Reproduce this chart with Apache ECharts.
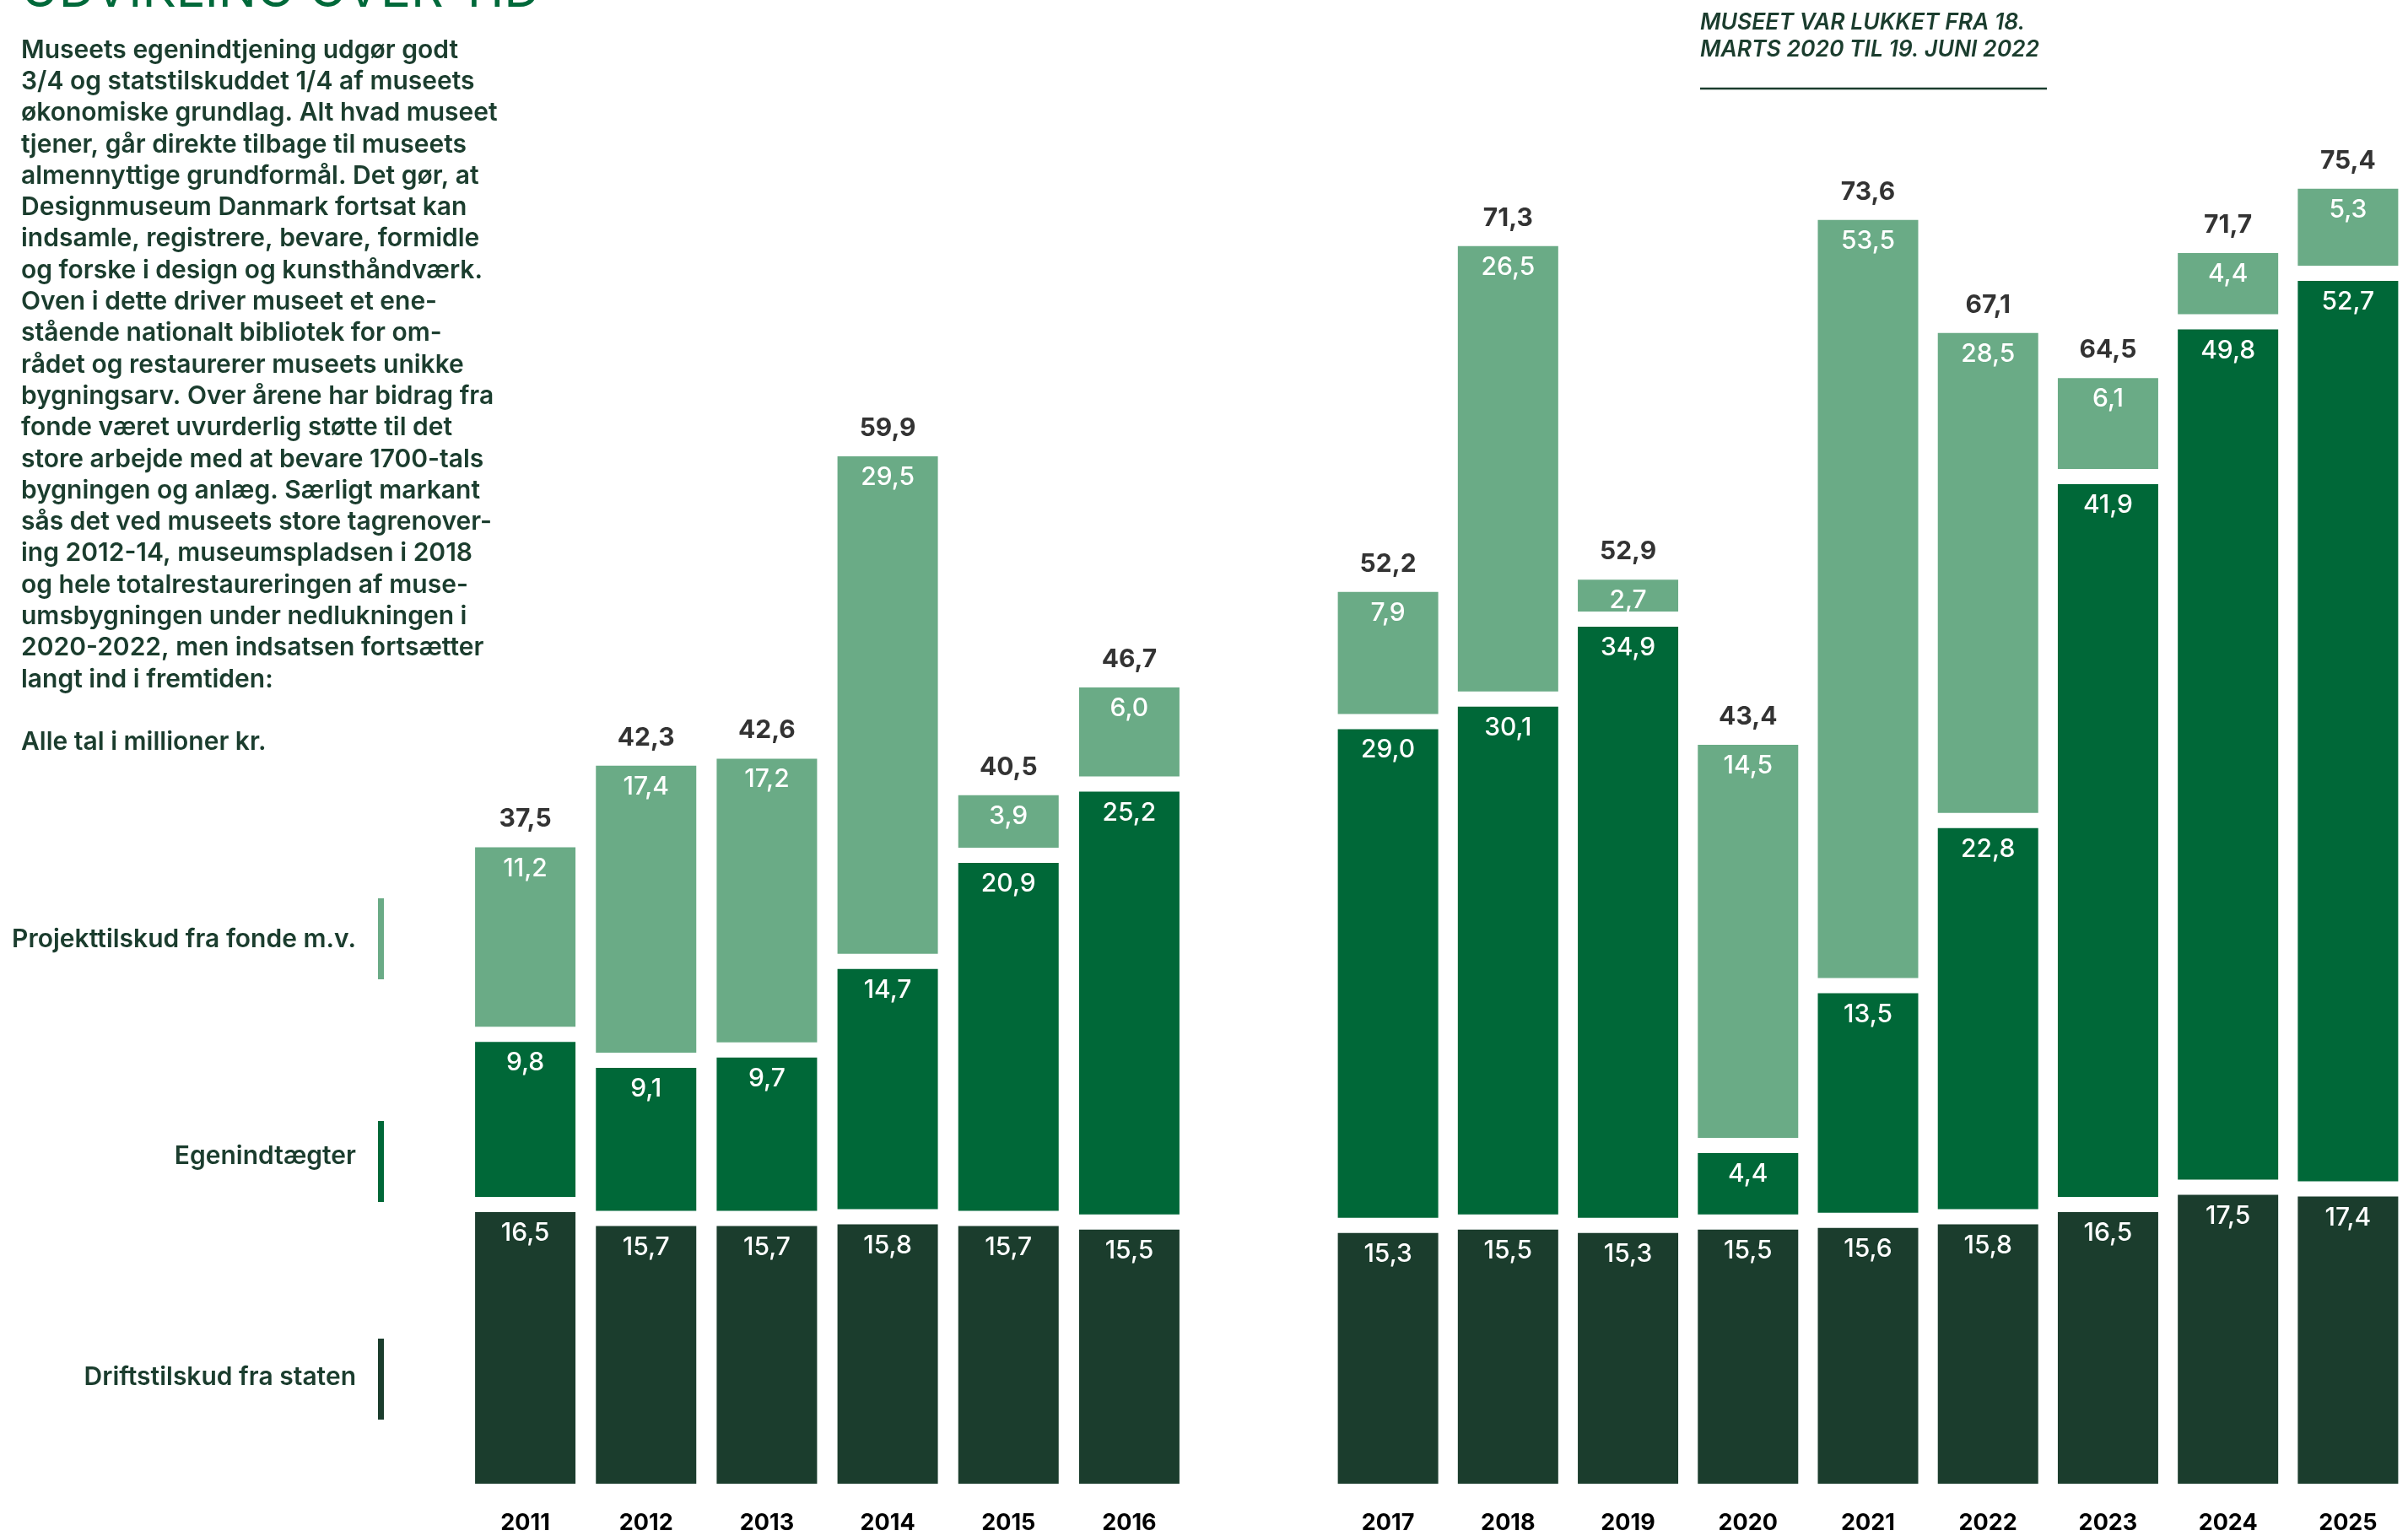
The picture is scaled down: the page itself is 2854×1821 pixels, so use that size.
<!DOCTYPE html>
<html>
<head>
<meta charset="utf-8">
<script src="https://cdn.jsdelivr.net/npm/echarts@6/dist/echarts.min.js"></script>
<style>
html,body{margin:0;padding:0;background:#ffffff;}
#chart{width:2854px;height:1821px;}
</style>
</head>
<body>
<div id="chart"></div>
<script>
// ---------- data ----------
const years = ['2011','2012','2013','2014','2015','2016','2017','2018','2019','2020','2021','2022','2023','2024','2025'];
// Driftstilskud fra staten
const drift = [16.5,15.7,15.7,15.8,15.7,15.5,15.3,15.5,15.3,15.5,15.6,15.8,16.5,17.5,17.4];
// Egenindtægter
const egen = [9.8,9.1,9.7,14.7,20.9,25.2,29.0,30.1,34.9,4.4,13.5,22.8,41.9,49.8,52.7];
const fonde = [11.2,17.4,17.2,29.5,3.9,6.0,7.9,26.5,2.7,23.5,44.5,28.5,6.1,4.4,5.3];
// printed labels for the fonde segments
const fondeText = ['11,2','17,4','17,2','29,5','3,9','6,0','7,9','26,5','2,7','14,5','53,5','28,5','6,1','4,4','5,3'];
// printed totals
const totalsText = ['37,5','42,3','42,6','59,9','40,5','46,7','52,2','71,3','52,9','43,4','73,6','67,1','64,5','71,7','75,4'];

const seriesNames = ['Projekttilskud fra fonde m.v.','Egenindtægter','Driftstilskud fra staten'];
const titleText = 'UDVIKLING OVER TID';
const bodyLines = [
  'Museets egenindtjening udgør godt',
  '3/4 og statstilskuddet 1/4 af museets',
  'økonomiske grundlag. Alt hvad museet',
  'tjener, går direkte tilbage til museets',
  'almennyttige grundformål. Det gør, at',
  'Designmuseum Danmark fortsat kan',
  'indsamle, registrere, bevare, formidle',
  'og forske i design og kunsthåndværk.',
  'Oven i dette driver museet et ene-',
  'stående nationalt bibliotek for om-',
  'rådet og restaurerer museets unikke',
  'bygningsarv. Over årene har bidrag fra',
  'fonde været uvurderlig støtte til det',
  'store arbejde med at bevare 1700-tals',
  'bygningen og anlæg. Særligt markant',
  'sås det ved museets store tagrenover-',
  'ing 2012-14, museumspladsen i 2018',
  'og hele totalrestaureringen af muse-',
  'umsbygningen under nedlukningen i',
  '2020-2022, men indsatsen fortsætter',
  'langt ind i fremtiden:',
  '',
  'Alle tal i millioner kr.'
];
const noteLines = ['MUSEET VAR LUKKET FRA 18.','MARTS 2020 TIL 19. JUNI 2022'];

// ---------- style ----------
const C_LIGHT = '#6aab86';
const C_MID = '#006838';
const C_DARK = '#1b3d2d';
const C_TEXT = '#1b3d2e';
const C_TITLE = '#00693a';
const FONT = 'Inter';
const BORDER = 9;       // white border drawn inside each segment -> 18px gaps
const VISIBLE_W = 119;  // visible bar width

const fmt = v => v.toFixed(1).replace('.', ',');
const groups = [[0, 6], [6, 15]];

const grids = [
  {left: 551, top: 120, width: 859, height: 1648},
  {left: 1574, top: 120, width: 1295, height: 1648}
];

const xAxes = [], yAxes = [], series = [];
groups.forEach((gr, g) => {
  const [a, b] = gr;
  xAxes.push({
    type: 'category', gridIndex: g, data: years.slice(a, b),
    axisLine: {show: false}, axisTick: {show: false}, splitLine: {show: false},
    axisLabel: {color: '#000', fontSize: 27, fontWeight: 700, fontFamily: FONT, margin: 24}
  });
  yAxes.push({type: 'value', gridIndex: g, min: 0, max: 80, show: false, splitLine: {show: false}});
  const segs = [
    {name: seriesNames[2], data: drift, color: C_DARK, text: i => fmt(drift[i])},
    {name: seriesNames[1], data: egen, color: C_MID, text: i => fmt(egen[i])},
    {name: seriesNames[0], data: fonde, color: C_LIGHT, text: i => fondeText[i]}
  ];
  segs.forEach(s => {
    series.push({
      type: 'bar', name: s.name, stack: 'st' + g, xAxisIndex: g, yAxisIndex: g,
      barWidth: VISIBLE_W + 2 * BORDER, data: s.data.slice(a, b),
      itemStyle: {color: s.color, borderColor: '#ffffff', borderWidth: BORDER},
      label: {
        show: true, position: 'insideTop', distance: 19, color: '#ffffff',
        fontSize: 30, fontWeight: 500, fontFamily: FONT,
        formatter: p => s.text(a + p.dataIndex)
      },
      emphasis: {disabled: true}, silent: true
    });
  });
  const tops = [];
  for (let i = a; i < b; i++) tops.push(drift[i] + egen[i] + fonde[i]);
  series.push({
    type: 'scatter', xAxisIndex: g, yAxisIndex: g, data: tops,
    symbolSize: 0.1, itemStyle: {color: 'rgba(0,0,0,0)'},
    label: {
      show: true, position: 'top', distance: 9, color: '#000',
      fontSize: 30, fontWeight: 700, fontFamily: FONT,
      formatter: p => totalsText[a + p.dataIndex]
    },
    emphasis: {disabled: true}, silent: true, z: 5
  });
});

const legendY = [1114, 1371, 1633];
const legendBarY = [1065, 1329, 1587];
const legendColors = [C_LIGHT, C_MID, C_DARK];

const graphics = [
  {type: 'text', x: 25, y: -10, style: {text: titleText, fill: C_TITLE, fontSize: 60, fontWeight: 400, fontFamily: FONT, textVerticalAlign: 'middle'}},
  {type: 'text', x: 25, y: 41, style: {text: bodyLines.join('\n'), fill: C_TEXT, fontSize: 30, fontWeight: 600, fontFamily: FONT, lineHeight: 37.3}},
  {type: 'text', x: 2015, y: 11, style: {text: noteLines.join('\n'), fill: C_TEXT, fontSize: 26.5, fontWeight: 600, fontStyle: 'italic', fontFamily: FONT, lineHeight: 32}},
  {type: 'line', shape: {x1: 2015, y1: 105, x2: 2426, y2: 105}, style: {stroke: C_TEXT, lineWidth: 2.5}}
];
seriesNames.forEach((n, i) => {
  graphics.push({type: 'text', x: 422, y: legendY[i], style: {text: n, fill: C_TEXT, fontSize: 30, fontWeight: 600, fontFamily: FONT, textAlign: 'right', textVerticalAlign: 'middle'}});
  graphics.push({type: 'rect', shape: {x: 448, y: legendBarY[i], width: 7, height: 96}, style: {fill: legendColors[i]}});
});

const chart = echarts.init(document.getElementById('chart'), null, {renderer: 'canvas'});
chart.setOption({
  animation: false,
  backgroundColor: '#ffffff',
  grid: grids,
  xAxis: xAxes,
  yAxis: yAxes,
  series: series,
  graphic: graphics
});
</script>
</body>
</html>
